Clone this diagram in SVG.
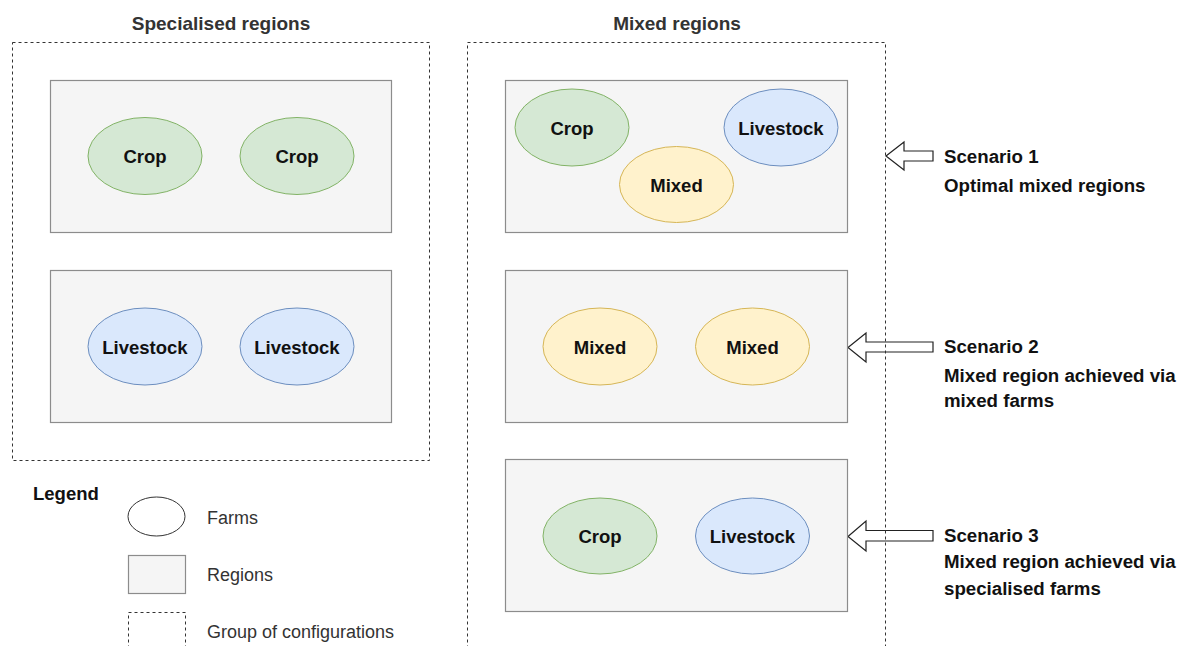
<svg xmlns="http://www.w3.org/2000/svg" width="1181" height="646" viewBox="0 0 1181 646">
  <style>
    .bg { fill: #ffffff; }
    .group { fill: none; stroke: #333333; stroke-width: 1; stroke-dasharray: 3 3; }
    .region { fill: #f5f5f5; stroke: #8c8c8c; stroke-width: 1.2; }
    .crop { fill: #d5e8d4; stroke: #82b366; stroke-width: 1; }
    .live { fill: #dae8fc; stroke: #6c8ebf; stroke-width: 1; }
    .mixed { fill: #fff2cc; stroke: #d6b656; stroke-width: 1; }
    .farm { fill: #ffffff; stroke: #333333; stroke-width: 1; }
    .arrow { fill: #ffffff; stroke: #222222; stroke-width: 1.2; stroke-linejoin: miter; }
    text { font-family: "Liberation Sans", Arial, sans-serif; }
    .title { font-size: 19px; font-weight: bold; fill: #333333; text-anchor: middle; }
    .node { font-size: 18.5px; font-weight: bold; fill: #111111; text-anchor: middle; }
    .scen { font-size: 18.7px; font-weight: bold; fill: #111111; }
    .legend-h { font-size: 18.5px; font-weight: bold; fill: #111111; }
    .legend { font-size: 18px; fill: #333333; }
  </style>
  <rect class="bg" x="0" y="0" width="1181" height="646"/>

  <!-- scenario arrows -->
  <g id="connectors">
    <polygon class="arrow" points="886,156 904,142 904,151 933,151 933,161 904,161 904,170"/>
    <polygon class="arrow" points="848,347.5 866,333 866,342 933,342 933,352 866,352 866,362"/>
    <polygon class="arrow" points="848,536.5 866,521 866,530.5 933,530.5 933,541 866,541 866,551"/>
  </g>

  <!-- specialised regions -->
  <g id="specialised-group">
    <text class="title" x="221" y="30">Specialised regions</text>
    <rect class="group" x="12.5" y="42.5" width="417" height="418"/>
  </g>
  <g id="spec-crop-region">
    <rect class="region" x="50.5" y="80.5" width="341" height="152"/>
    <ellipse class="crop" cx="145" cy="156" rx="57" ry="38.5"/>
    <text class="node" x="145" y="163">Crop</text>
    <ellipse class="crop" cx="297" cy="156" rx="57" ry="38.5"/>
    <text class="node" x="297" y="163">Crop</text>
  </g>
  <g id="spec-livestock-region">
    <rect class="region" x="50.5" y="270.5" width="341" height="152"/>
    <ellipse class="live" cx="145" cy="346.5" rx="57" ry="38.5"/>
    <text class="node" x="145" y="353.5">Livestock</text>
    <ellipse class="live" cx="297" cy="346.5" rx="57" ry="38.5"/>
    <text class="node" x="297" y="353.5">Livestock</text>
  </g>

  <!-- mixed regions -->
  <g id="mixed-group">
    <text class="title" x="677" y="30">Mixed regions</text>
    <rect class="group" x="467.5" y="42.5" width="418" height="620"/>
  </g>
  <g id="scenario-1-region">
    <rect class="region" x="505.5" y="80.5" width="342" height="152"/>
    <ellipse class="crop" cx="572" cy="127.5" rx="57" ry="38.5"/>
    <text class="node" x="572" y="134.5">Crop</text>
    <ellipse class="live" cx="781" cy="127.5" rx="57" ry="38.5"/>
    <text class="node" x="781" y="134.5">Livestock</text>
    <ellipse class="mixed" cx="676.5" cy="184.5" rx="57" ry="38"/>
    <text class="node" x="676.5" y="191.5">Mixed</text>
  </g>
  <g id="scenario-2-region">
    <rect class="region" x="505.5" y="270.5" width="342" height="152"/>
    <ellipse class="mixed" cx="600" cy="346.5" rx="57" ry="38.5"/>
    <text class="node" x="600" y="353.5">Mixed</text>
    <ellipse class="mixed" cx="752.5" cy="346.5" rx="57" ry="38.5"/>
    <text class="node" x="752.5" y="353.5">Mixed</text>
  </g>
  <g id="scenario-3-region">
    <rect class="region" x="505.5" y="459.5" width="342" height="152"/>
    <ellipse class="crop" cx="600" cy="536" rx="57" ry="38"/>
    <text class="node" x="600" y="543">Crop</text>
    <ellipse class="live" cx="752.5" cy="536" rx="57" ry="38"/>
    <text class="node" x="752.5" y="543">Livestock</text>
  </g>

  <!-- scenario captions -->
  <g id="scenario-1-label">
    <text class="scen" x="944" y="163">Scenario 1</text>
    <text class="scen" x="944" y="192">Optimal mixed regions</text>
  </g>
  <g id="scenario-2-label">
    <text class="scen" x="944" y="353">Scenario 2</text>
    <text class="scen" x="944" y="382">Mixed region achieved via</text>
    <text class="scen" x="944" y="407">mixed farms</text>
  </g>
  <g id="scenario-3-label">
    <text class="scen" x="944" y="542">Scenario 3</text>
    <text class="scen" x="944" y="568">Mixed region achieved via</text>
    <text class="scen" x="944" y="595">specialised farms</text>
  </g>

  <!-- legend -->
  <g id="legend">
    <text class="legend-h" x="33" y="500">Legend</text>
    <ellipse class="farm" cx="156.5" cy="516.5" rx="28.5" ry="19.5"/>
    <text class="legend" x="207" y="524">Farms</text>
    <rect class="region" x="128.5" y="555.5" width="57" height="38"/>
    <text class="legend" x="207" y="581">Regions</text>
    <rect class="group" x="128.5" y="612.5" width="57" height="45"/>
    <text class="legend" x="207" y="638">Group of configurations</text>
  </g>
</svg>
